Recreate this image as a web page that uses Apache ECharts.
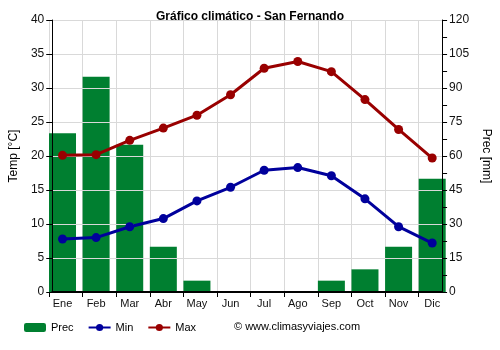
<!DOCTYPE html>
<html><head><meta charset="utf-8">
<script src="https://cdn.jsdelivr.net/npm/echarts@6/dist/echarts.min.js"></script>
<style>html,body{margin:0;padding:0;background:#fff}#c{width:500px;height:350px}</style>
</head><body><div id="c"></div>
<script>
const months = ['Ene','Feb','Mar','Abr','May','Jun','Jul','Ago','Sep','Oct','Nov','Dic'];
const prec = [70, 95, 65, 20, 5, 0, 0, 0, 5, 10, 20, 50];
const tMin = [7.8, 8.0, 9.6, 10.8, 13.4, 15.4, 17.9, 18.3, 17.1, 13.7, 9.6, 7.2];
const tMax = [20.1, 20.2, 22.3, 24.1, 26.0, 29.0, 32.9, 33.9, 32.4, 28.3, 23.9, 19.7];
const tempTicks = [0, 5, 10, 15, 20, 25, 30, 35, 40];
const precTicks = [0, 15, 30, 45, 60, 75, 90, 105, 120];

const FONT = 'Liberation Sans, Arial, sans-serif';
const gTop = 20, gBottom = 58;
const chart = echarts.init(document.getElementById('c'));
chart.setOption({
  animation: false,
  textStyle: {fontFamily: FONT},
  title: [
    {text: 'Gráfico climático - San Fernando', left: 'center', top: 11, padding: 0,
     textStyle: {fontSize: 12, fontWeight: 'bold', color: '#000', fontFamily: FONT}},
    {text: '© www.climasyviajes.com', left: 234, top: 321, padding: 0,
     textStyle: {fontSize: 11, fontWeight: 'normal', color: '#000', fontFamily: FONT}}
  ],
  legend: {
    data: ['Prec', 'Min', 'Max'], left: 24, top: 322, padding: 0, itemWidth: 22, itemHeight: 9,
    itemGap: 14, textStyle: {fontSize: 11, color: '#000', fontFamily: FONT, padding: [0, 0, 0, 0]}
  },
  grid: [
    {left: 45.7, right: 51, top: gTop, bottom: gBottom},
    {left: 49, right: 81.4, top: gTop, bottom: gBottom},
    {left: 49, right: 54.3, top: gTop, bottom: gBottom}
  ],
  xAxis: [
    {gridIndex: 0, type: 'category', data: months, boundaryGap: true,
     axisLine: {show: false}, axisTick: {show: false}, splitLine: {show: false},
     axisLabel: {fontSize: 11, color: '#111', margin: 6, interval: 0}},
    {gridIndex: 1, type: 'category', data: months.slice(0, 11), boundaryGap: true, z: 0,
     axisLine: {show: false}, axisLabel: {show: false},
     axisTick: {show: true, length: 5, lineStyle: {color: '#000'}},
     splitLine: {show: true, lineStyle: {color: '#d9d9d9', width: 1}}},
    {gridIndex: 2, type: 'category', data: months, z: 3,
     axisLine: {show: true, lineStyle: {color: '#000', width: 2}},
     axisTick: {show: false}, axisLabel: {show: false}, splitLine: {show: false}}
  ],
  yAxis: [
    {gridIndex: 2, type: 'value', min: 0, max: 40, interval: 5, position: 'left', z: 3,
     name: 'Temp [°C]', nameLocation: 'middle', nameGap: 31,
     nameTextStyle: {fontSize: 12, color: '#000', fontFamily: FONT},
     axisLine: {show: true, lineStyle: {color: '#000', width: 1}},
     axisTick: {show: true, length: 6, lineStyle: {color: '#000'}},
     axisLabel: {fontSize: 12, color: '#111', margin: 8},
     splitLine: {show: true, lineStyle: {color: '#d9d9d9', width: 1}}},
    {gridIndex: 2, type: 'value', min: 0, max: 120, interval: 15, position: 'right', z: 3,
     name: 'Prec [mm]', nameLocation: 'middle', nameGap: 35, nameRotate: -90,
     nameTextStyle: {fontSize: 12, color: '#000', fontFamily: FONT},
     axisLine: {show: true, lineStyle: {color: '#000', width: 1}},
     axisTick: {show: true, length: 5, lineStyle: {color: '#000'}},
     minorTick: {show: true, splitNumber: 2, length: 5, lineStyle: {color: '#000'}},
     axisLabel: {fontSize: 12, color: '#111', margin: 7},
     splitLine: {show: false}},
    {gridIndex: 0, type: 'value', min: 0, max: 40, interval: 5, show: false},
    {gridIndex: 0, type: 'value', min: 0, max: 120, interval: 15, show: false},
    {gridIndex: 1, type: 'value', min: 0, max: 40, interval: 5, show: false}
  ],
  series: [
    {name: 'Prec', type: 'bar', xAxisIndex: 0, yAxisIndex: 3, data: prec, barWidth: 27,
     itemStyle: {color: '#007f30'}, z: 2},
    {name: 'Min', type: 'line', xAxisIndex: 0, yAxisIndex: 2, data: tMin,
     symbol: 'circle', symbolSize: 9, color: '#00009c',
     lineStyle: {width: 3, color: '#00009c'}, itemStyle: {color: '#00009c'}, z: 4},
    {name: 'Max', type: 'line', xAxisIndex: 0, yAxisIndex: 2, data: tMax,
     symbol: 'circle', symbolSize: 9, color: '#990000',
     lineStyle: {width: 3, color: '#990000'}, itemStyle: {color: '#990000'}, z: 4}
  ]
});
</script></body></html>
